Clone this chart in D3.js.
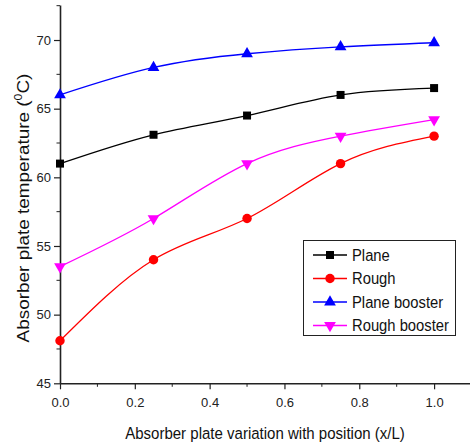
<!DOCTYPE html>
<html>
<head>
<meta charset="UTF-8">
<script src="https://d3js.org/d3.v7.min.js"></script>
<style>
  body { margin: 0; background: #fff; }
  svg { font-family: "Liberation Sans", Arial, sans-serif; }
</style>
</head>
<body>
<div id="chart"></div>
<script>
const positions = [0.0, 0.25, 0.5, 0.75, 1.0];
const plane = [61.0, 63.1, 64.5, 66.0, 66.5];
const rough = [48.1, 54.0, 57.0, 61.0, 63.0];
const planeBooster = [66.0, 68.0, 69.0, 69.5, 69.8];
const roughBooster = [53.5, 57.0, 61.0, 63.0, 64.2];
const xTicks = [0.0, 0.2, 0.4, 0.6, 0.8, 1.0];
const yTicks = [45, 50, 55, 60, 65, 70];

const series = [
  { name: "Plane", values: plane, color: "#000000", shape: d3.symbolSquare, size: 64 },
  { name: "Rough", values: rough, color: "#ff0000", shape: d3.symbolCircle, size: 70 },
  { name: "Plane booster", values: planeBooster, color: "#0000ff", shape: d3.symbolTriangle, size: 60 },
  { name: "Rough booster", values: roughBooster, color: "#ff00ff", shape: "down", size: 60 }
];

const width = 470, height = 447;
const svg = d3.select("#chart").append("svg")
  .attr("width", width).attr("height", height);

const x = d3.scaleLinear().domain([0, 1.096]).range([60, 470]);
const y = d3.scaleLinear().domain([45, 72.55]).range([383.3, 5]);

// squeeze text horizontally so it looks like the narrow font of the original
function squeeze(sel, cx, cy, target, rotate) {
  const w = sel.node().getComputedTextLength();
  const k = target / w;
  sel.attr("transform", `translate(${cx},${cy})` + (rotate ? " rotate(-90)" : "") + ` scale(${k},1)`);
}

// x axis
const xAxis = svg.append("g").attr("transform", `translate(0,${y(45)})`);
xAxis.call(d3.axisBottom(x).tickValues(xTicks).tickFormat(d3.format(".1f")).tickSize(6).tickSizeOuter(0));
xAxis.append("g").selectAll("line").data([0.1, 0.3, 0.5, 0.7, 0.9, 1.1].filter(d => d <= 1.096))
  .enter().append("line")
  .attr("x1", d => x(d)).attr("x2", d => x(d)).attr("y1", 0).attr("y2", 3.5)
  .attr("stroke", "#222");

// y axis
const yAxis = svg.append("g").attr("transform", `translate(${x(0)},0)`);
yAxis.call(d3.axisLeft(y).tickValues(yTicks).tickSize(6).tickSizeOuter(0));
yAxis.append("g").selectAll("line").data([47.5, 52.5, 57.5, 62.5, 67.5, 72.5])
  .enter().append("line")
  .attr("x1", 0).attr("x2", -3.5).attr("y1", d => y(d)).attr("y2", d => y(d))
  .attr("stroke", "#222");

svg.selectAll(".domain").attr("stroke", "#222").attr("stroke-width", 1.6);
svg.selectAll(".tick line").attr("stroke", "#222").attr("stroke-width", 1.2);
svg.selectAll(".tick text").attr("font-size", 13).attr("fill", "#222")
  .attr("font-family", "Liberation Sans, Arial, sans-serif");
xAxis.selectAll(".tick text").attr("dy", "1.1em");

// axis titles
const xt = svg.append("text")
  .attr("text-anchor", "middle").attr("font-size", 16.5).attr("fill", "#111")
  .text("Absorber plate variation with position (x/L)");
squeeze(xt, 265, 439, 280, false);

const yt = svg.append("text")
  .attr("text-anchor", "middle").attr("font-size", 17).attr("fill", "#111");
yt.append("tspan").text("Absorber plate temperature (");
yt.append("tspan").attr("font-size", 11).attr("dy", -7).text("0");
yt.append("tspan").attr("dy", 7).text("C)");
squeeze(yt, 29, 208, 269, true);

function symbolPath(s) {
  if (s.shape === "down") {
    return d3.symbol().type(d3.symbolTriangle).size(s.size)();
  }
  return d3.symbol().type(s.shape).size(s.size)();
}

const line = d3.line()
  .x((d, i) => x(positions[i]))
  .y(d => y(d))
  .curve(d3.curveNatural);

series.forEach(s => {
  svg.append("path")
    .attr("d", line(s.values))
    .attr("fill", "none")
    .attr("stroke", s.color)
    .attr("stroke-width", 1.3);
  svg.append("g").selectAll("path").data(s.values).enter().append("path")
    .attr("d", symbolPath(s))
    .attr("transform", (d, i) => `translate(${x(positions[i])},${y(d)})` + (s.shape === "down" ? " rotate(180)" : ""))
    .attr("fill", s.color);
});

// legend
const lg = svg.append("g");
lg.append("rect")
  .attr("x", 303.5).attr("y", 240.5).attr("width", 152).attr("height", 95)
  .attr("fill", "#fff").attr("stroke", "#222").attr("stroke-width", 1);
const labels = [];
series.forEach((s, i) => {
  const cy = 255 + i * 23.5;
  lg.append("line").attr("x1", 313).attr("x2", 347).attr("y1", cy).attr("y2", cy)
    .attr("stroke", s.color).attr("stroke-width", 1.3);
  lg.append("path").attr("d", symbolPath(s))
    .attr("transform", `translate(330,${cy})` + (s.shape === "down" ? " rotate(180)" : ""))
    .attr("fill", s.color);
  const t = lg.append("text").attr("x", 0).attr("y", 0).attr("font-size", 16)
    .attr("fill", "#111").text(s.name);
  labels.push({ t, cy });
});
const widest = d3.max(labels, l => l.t.node().getComputedTextLength());
const kl = 97 / widest;
labels.forEach(l => l.t.attr("transform", `translate(352,${l.cy + 5.5}) scale(${kl},1)`));
</script>
</body>
</html>
